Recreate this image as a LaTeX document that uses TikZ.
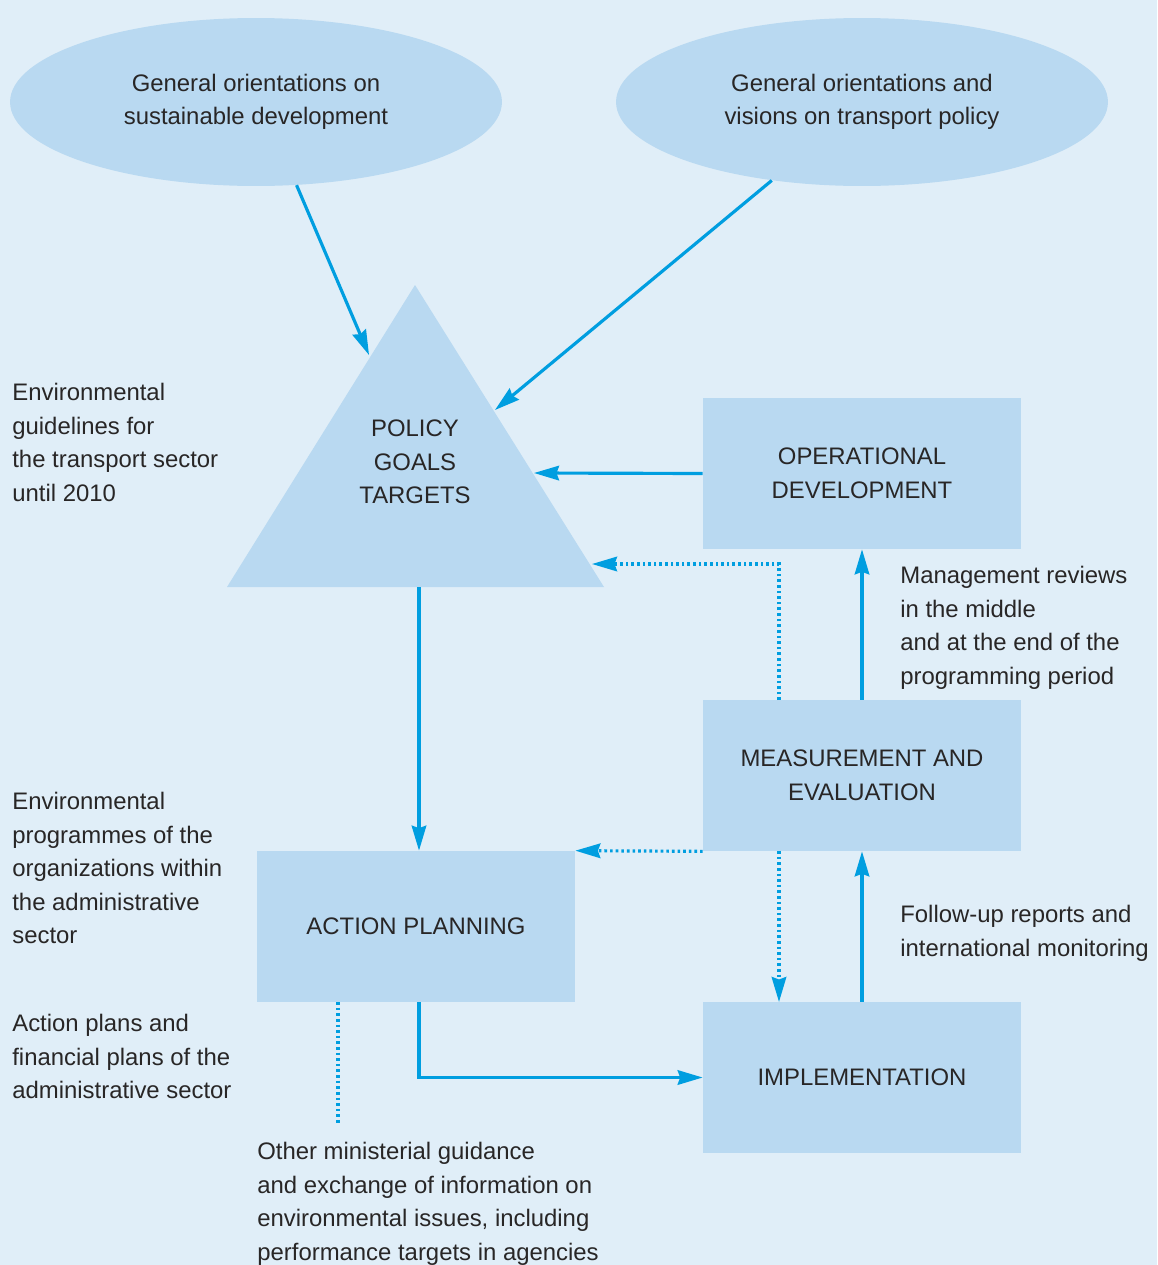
\documentclass[tikz,border=0pt]{standalone}
\usepackage{fontspec}
\setmainfont{Liberation Sans}
\usetikzlibrary{shapes.geometric,arrows.meta}
\definecolor{bgc}{RGB}{224,238,248}
\definecolor{shp}{RGB}{185,217,241}
\definecolor{arc}{RGB}{0,158,224}
\definecolor{txc}{RGB}{40,38,38}
\tikzset{
  lbl/.style={font=\fontsize{13.6pt}{19.1pt}\selectfont, text=txc},
  note/.style={lbl, align=left, anchor=north west, inner sep=0pt},
  oval/.style={ellipse, fill=shp, minimum width=9.84cm, minimum height=3.36cm, inner sep=0pt, lbl, align=center},
  boxn/.style={rectangle, fill=shp, minimum width=6.36cm, minimum height=3.02cm, inner sep=0pt, lbl, align=center},
  tip/.style={-{Stealth[length=0.5cm,width=0.29cm,inset=0.05cm]}},
  solidarr/.style={tip, draw=arc, line width=1.8pt},
  dotline/.style={draw=arc, line width=1.8pt, dash pattern=on 1.5pt off 1.7pt},
  dotarr/.style={dotline, tip},
}
\begin{document}
\begin{tikzpicture}[x=0.02cm,y=-0.02cm]
\fill[bgc] (0,0) rectangle (1157,1265);
\useasboundingbox (0,0) rectangle (1157,1265);

% ovals
\node[oval] (e1) at (256,102) {General orientations on\\sustainable development};
\node[oval] (e2) at (862,102) {General orientations and\\visions on transport policy};

% triangle
\fill[shp] (415,285) -- (604,587) -- (227,587) -- cycle;
\node[lbl, align=center] (pol) at (415,462) {POLICY\\GOALS\\TARGETS};
\coordinate (tL) at (369,355);
\coordinate (tR) at (495,410);
\coordinate (tM) at (534,473);
\coordinate (tD) at (592,564);
\coordinate (tB) at (419,587);

% boxes
\node[boxn] (op) at (862,473.5) {OPERATIONAL\\DEVELOPMENT};
\node[boxn] (me) at (862,775.5) {MEASUREMENT AND\\EVALUATION};
\node[boxn] (ap) at (416,926.5) {ACTION PLANNING};
\node[boxn] (im) at (862,1077.5) {IMPLEMENTATION};

% notes
\node[note] (n1) at (12,383) {Environmental\\guidelines for\\the transport sector\\until 2010};
\node[note] (n2) at (12,792) {Environmental\\programmes of the\\organizations within\\the administrative\\sector};
\node[note] (n3) at (12,1014) {Action plans and\\financial plans of the\\administrative sector};
\node[note] (n4) at (900,566) {Management reviews\\in the middle\\and at the end of the\\programming period};
\node[note] (n5) at (900,905) {Follow-up reports and\\international monitoring};
\node[note] (n6) at (257,1142) {Other ministerial guidance\\and exchange of information on\\environmental issues, including\\performance targets in agencies};

% solid arrows
\draw[solidarr] (e1.-64) -- (tL);
\draw[solidarr] (e2.-139) -- (tR);
\draw[solidarr] (op.west) -- (tM);
\draw[solidarr] (tB) -- (tB |- ap.north);
\draw[solidarr] (me.north) -- (op.south);
\draw[solidarr] (im.north) -- (me.south);
\draw[solidarr] (tB |- ap.south) |- (im.west);

% dotted arrows
\coordinate (mt) at (779,700);
\coordinate (mb) at (779,851);
\coordinate (ib) at (779,1002);
\draw[dotarr] (mt) |- (tD);
\draw[dotarr] (me.south west) -- (ap.north east);
\draw[dotarr] (mb) -- (ib);

% dotted line without arrow
\coordinate (apd) at (338,1002);
\coordinate (ape) at (338,1125);
\draw[dotline] (apd) -- (ape);
\end{tikzpicture}
\end{document}
